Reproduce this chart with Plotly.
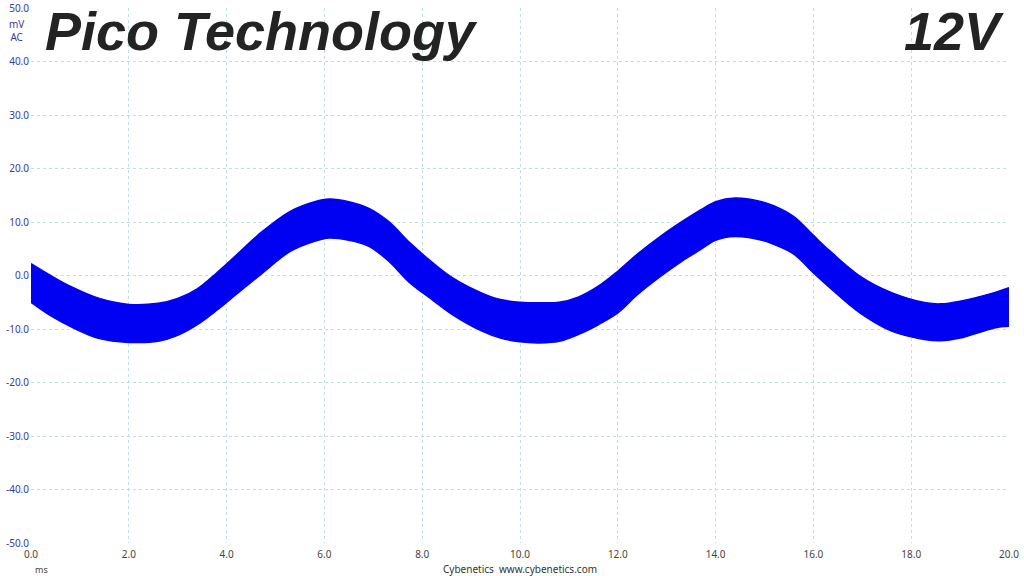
import plotly.graph_objects as go

# time (ms), upper and lower envelope (mV) of the ripple band
t_ms = [0.0, 0.4, 0.8, 1.4, 2.0, 2.6, 3.0, 3.4, 3.8, 4.2, 4.7, 5.3, 5.8, 6.1, 6.5,
        6.9, 7.3, 7.75, 8.2, 8.6, 9.2, 9.6, 10.0, 10.4, 10.8, 11.2, 11.6, 12.0, 12.4,
        12.9, 13.3, 13.7, 14.0, 14.4, 14.9, 15.2, 15.6, 16.0, 16.3, 16.95, 17.6,
        18.3, 18.6, 19.0, 19.7, 20.0]
upper_mv = [2.2, 0.0, -2.0, -4.3, -5.4, -5.2, -4.3, -2.5, 0.5, 3.8, 8.0, 12.0, 13.8,
            14.3, 13.8, 12.6, 10.2, 6.1, 2.5, -0.3, -3.2, -4.5, -5.0, -5.1, -5.0, -4.0,
            -2.0, 0.8, 4.0, 7.5, 10.0, 12.3, 13.8, 14.5, 13.9, 13.0, 11.0, 7.5, 4.9,
            -0.1, -3.2, -5.1, -5.3, -4.8, -3.2, -2.3]
lower_mv = [-5.0, -7.5, -9.5, -11.8, -12.5, -12.3, -11.2, -9.2, -6.5, -3.5, 0.2, 4.5,
            6.4, 7.0, 6.6, 5.5, 2.8, -1.4, -4.5, -7.2, -10.3, -11.7, -12.4, -12.6,
            -12.3, -11.0, -9.2, -7.0, -3.6, 0.0, 2.6, 4.9, 6.6, 7.3, 6.7, 5.8, 4.0,
            0.5, -2.0, -7.0, -10.4, -12.0, -12.2, -11.7, -9.8, -9.5]

x_ticks = [0, 2, 4, 6, 8, 10, 12, 14, 16, 18, 20]
y_ticks = [-50, -40, -30, -20, -10, 0, 10, 20, 30, 40, 50]

title_text = "Pico Technology"
rail_text = "12V"
unit_y = "mV<br>AC"
unit_x = "ms"
footer = "Cybenetics  www.cybenetics.com"

blue = "#0000f2"
grid = "#c4dde0"

fig = go.Figure()
fig.add_trace(go.Scatter(x=t_ms, y=lower_mv, mode="lines",
                         line=dict(color=blue, width=1.5, shape="spline", smoothing=1.0),
                         hoverinfo="skip", showlegend=False))
fig.add_trace(go.Scatter(x=t_ms, y=upper_mv, mode="lines", fill="tonexty",
                         fillcolor=blue,
                         line=dict(color=blue, width=1.5, shape="spline", smoothing=1.0),
                         hoverinfo="skip", showlegend=False))

fig.update_layout(
    width=1024, height=576,
    margin=dict(l=31, r=15, t=8, b=33),
    paper_bgcolor="white", plot_bgcolor="white",
    font=dict(family="Liberation Sans, Arial, sans-serif"),
    xaxis=dict(range=[0, 20], tickvals=x_ticks, automargin=False,
               ticktext=[f"{v:.1f}" for v in x_ticks],
               showgrid=True, gridcolor=grid, griddash="3px,3px", gridwidth=1,
               zeroline=False, showline=False, ticks="", ticklabelstandoff=4,
               tickfont=dict(size=10, color="#444444", family="Noto Sans, sans-serif")),
    yaxis=dict(range=[-50, 50], tickvals=y_ticks, automargin=False,
               ticktext=[f"{v:.1f}" for v in y_ticks],
               showgrid=True, gridcolor=grid, griddash="3px,3px", gridwidth=1,
               zeroline=False, showline=False, ticks="", ticklabelstandoff=1,
               tickfont=dict(size=10, color="#3a3aa0", family="Noto Sans, sans-serif")),
)

fig.add_annotation(text=f"<b><i>{title_text}</i></b>", xref="paper", yref="paper",
                   x=0.012, y=1.0, xanchor="left", yanchor="top", yshift=9,
                   showarrow=False,
                   font=dict(size=54, color="#232323", family="Liberation Sans, Arial"))
fig.add_annotation(text=f"<b><i>{rail_text}</i></b>", xref="paper", yref="paper",
                   x=0.997, y=1.0, xanchor="right", yanchor="top", yshift=9,
                   showarrow=False,
                   font=dict(size=54, color="#232323", family="Liberation Sans, Arial"))

fig.add_annotation(text=unit_y, xref="paper", yref="paper", x=0, y=1.0,
                   xanchor="right", yanchor="top", xshift=-5, yshift=-7, showarrow=False,
                   align="center",
                   font=dict(size=10, color="#3a3aa0", family="Noto Sans, sans-serif"))
fig.add_annotation(text=unit_x, xref="paper", yref="paper", x=0, y=0,
                   xanchor="left", yanchor="top", xshift=2, yshift=-18, showarrow=False,
                   font=dict(size=9, color="#444444", family="Noto Sans, sans-serif"))
fig.add_annotation(text=footer, xref="paper", yref="paper", x=0.5, y=0,
                   xanchor="center", yanchor="top", yshift=-17, showarrow=False,
                   font=dict(size=10, color="#333333", family="Noto Sans, sans-serif"))

fig.write_html("out.html", config={"displayModeBar": False},
               post_script="document.body.style.margin='0';")
